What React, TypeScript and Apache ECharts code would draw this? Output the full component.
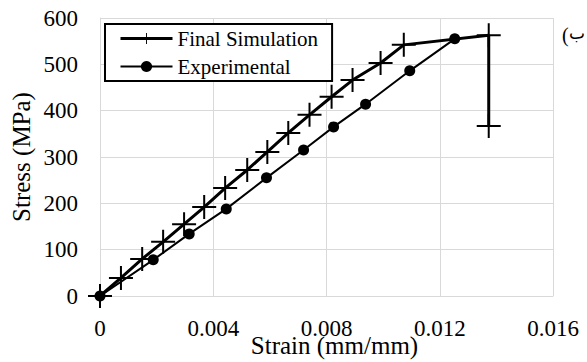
import React, { useEffect, useRef } from "react";
import * as echarts from "echarts";

const simStrain = [0, 0.00074, 0.00149, 0.00223, 0.00297, 0.00368, 0.00442, 0.0052, 0.00591, 0.00665, 0.0074, 0.00818, 0.00892, 0.00991, 0.01073, 0.01373, 0.01373];
const simStress = [0, 39, 80, 117, 155, 192, 233, 272, 311, 352, 391, 430, 466, 503, 542, 563, 367];

const expStrain = [0, 0.00188, 0.00315, 0.00446, 0.00588, 0.00719, 0.00825, 0.00938, 0.01094, 0.01253];
const expStress = [0, 78, 134, 188, 255, 315, 365, 414, 486, 555];

const xTicks = [0, 0.004, 0.008, 0.012, 0.016];
const yTicks = [0, 100, 200, 300, 400, 500, 600];

const seriesNames = ["Final Simulation", "Experimental"];
const xAxisName = "Strain (mm/mm)";
const yAxisName = "Stress (MPa)";
const cornerParen = "(";
const cornerLetter = "ب";

const PLUS =
  "path://M-1,-12L1,-12L1,-1L12,-1L12,1L1,1L1,12L-1,12L-1,1L-12,1L-12,-1L-1,-1Z";

export default function App() {
  const ref = useRef<HTMLDivElement>(null);
  useEffect(() => {
    document.body.style.margin = "0";
    if (!ref.current) return;
    const chart = echarts.init(ref.current, null, { renderer: "svg" });
    const font = "'Liberation Serif', 'Times New Roman', serif";
    const xMin = xTicks[0];
    const xMax = xTicks[xTicks.length - 1];
    const xInt = xTicks[1] - xTicks[0];
    const yMin = yTicks[0];
    const yMax = yTicks[yTicks.length - 1];
    const yInt = yTicks[1] - yTicks[0];
    chart.setOption({
      animation: false,
      backgroundColor: "#ffffff",
      grid: { left: 100, right: 34, top: 18, bottom: 66, outerBoundsMode: "none" },
      legend: {
        orient: "vertical",
        left: 105,
        top: 24,
        padding: [4, 14, 4, 14],
        itemGap: 7,
        itemWidth: 52,
        itemHeight: 14,
        borderColor: "#000",
        borderWidth: 2,
        backgroundColor: "#fff",
        textStyle: { fontFamily: font, fontSize: 21, color: "#000" },
        data: [
          { name: seriesNames[0], lineStyle: { width: 3, color: "#000" } },
          { name: seriesNames[1], lineStyle: { width: 2, color: "#000" } },
        ],
      },
      xAxis: {
        type: "value",
        min: xMin,
        max: xMax,
        interval: xInt,
        name: xAxisName,
        nameLocation: "middle",
        nameGap: 37,
        nameMoveOverlap: false,
        nameTextStyle: {
          fontFamily: font,
          fontSize: 25,
          color: "#000",
          padding: [0, 0, 0, 16],
        },
        axisLine: { show: true, lineStyle: { color: "#d9d9d9", width: 1 } },
        axisTick: { show: false },
        axisLabel: {
          fontFamily: font,
          fontSize: 23,
          color: "#000",
          margin: 21,
          formatter: (v: number) => (v === 0 ? "0" : v.toFixed(3)),
        },
        splitLine: { show: true, lineStyle: { color: "#d9d9d9", width: 1 } },
      },
      yAxis: {
        type: "value",
        min: yMin,
        max: yMax,
        interval: yInt,
        name: yAxisName,
        nameLocation: "middle",
        nameGap: 66,
        nameMoveOverlap: false,
        nameTextStyle: { fontFamily: font, fontSize: 25, color: "#000" },
        axisLine: { show: true, lineStyle: { color: "#d9d9d9", width: 1 } },
        axisTick: { show: false },
        axisLabel: { fontFamily: font, fontSize: 23, color: "#000", margin: 22 },
        splitLine: { show: true, lineStyle: { color: "#d9d9d9", width: 1 } },
      },
      graphic: [
        {
          type: "text",
          left: 562,
          top: 25,
          style: { text: cornerParen, font: "20px " + font, fill: "#000" },
        },
        {
          type: "text",
          left: 569,
          top: 24,
          style: { text: cornerLetter, font: "17px 'DejaVu Sans', sans-serif", fill: "#000" },
        },
      ],
      series: [
        {
          name: seriesNames[1],
          type: "line",
          data: expStrain.map((x, i) => [x, expStress[i]]),
          symbol: "circle",
          symbolSize: 11,
          lineStyle: { color: "#000", width: 2 },
          itemStyle: { color: "#000" },
          z: 2,
        },
        {
          name: seriesNames[0],
          type: "line",
          data: simStrain.map((x, i) => [x, simStress[i]]),
          symbol: PLUS,
          symbolSize: 24,
          lineStyle: { color: "#000", width: 3 },
          itemStyle: { color: "#000", borderWidth: 0 },
          z: 3,
        },
      ],
    });
    return () => chart.dispose();
  }, []);
  return <div ref={ref} style={{ width: 587, height: 362 }} />;
}
